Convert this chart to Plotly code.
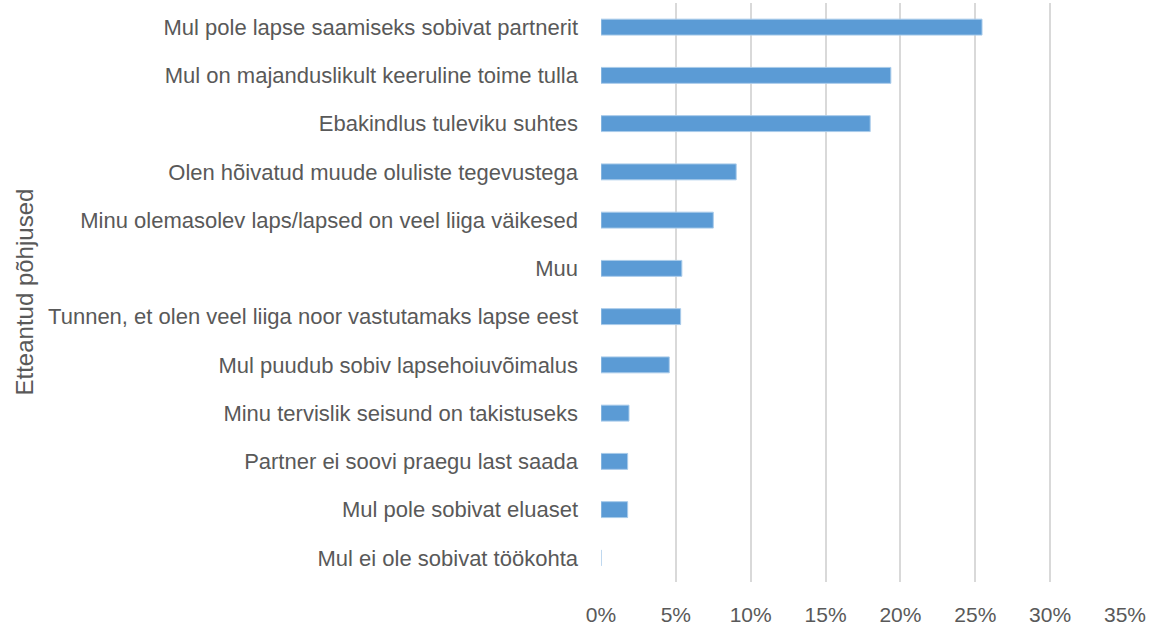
import plotly.graph_objects as go

categories = [
    "Mul pole lapse saamiseks sobivat partnerit",
    "Mul on majanduslikult keeruline toime tulla",
    "Ebakindlus tuleviku suhtes",
    "Olen hõivatud muude oluliste tegevustega",
    "Minu olemasolev laps/lapsed on veel liiga väikesed",
    "Muu",
    "Tunnen, et olen veel liiga noor vastutamaks lapse eest",
    "Mul puudub sobiv lapsehoiuvõimalus",
    "Minu tervislik seisund on takistuseks",
    "Partner ei soovi praegu last saada",
    "Mul pole sobivat eluaset",
    "Mul ei ole sobivat töökohta",
]
values = [0.2545, 0.1936, 0.1798, 0.0903, 0.0750, 0.0540, 0.0532, 0.0456, 0.0187, 0.0178, 0.0178, 0.0]
x_ticks = [0, 0.05, 0.10, 0.15, 0.20, 0.25, 0.30, 0.35]
x_ticklabels = ["0%", "5%", "10%", "15%", "20%", "25%", "30%", "35%"]
axis_title = "Etteantud põhjused"

W, H = 1153, 628
L, R, T, B = 601, 28, 3, 46
plot_w = W - L - R

fig = go.Figure(go.Bar(
    x=values, y=categories, orientation="h",
    marker=dict(color="#5B9BD5", line=dict(color="#A9CBEA", width=1)),
))

fig.update_layout(
    width=W, height=H,
    margin=dict(l=L, r=R, t=T, b=B, autoexpand=False),
    plot_bgcolor="white", paper_bgcolor="white",
    bargap=0.67,
    showlegend=False,
    font=dict(family="Liberation Sans, Arial, sans-serif"),
)
fig.update_xaxes(
    range=[0, 0.35], tickvals=x_ticks, ticktext=x_ticklabels,
    showgrid=True, gridcolor="#D9D9D9", gridwidth=2, zeroline=False,
    showline=False, ticks="", tickfont=dict(size=21, color="#595959"),
    ticklabelstandoff=18, fixedrange=True, automargin=False,
)
fig.update_yaxes(
    categoryorder="array", categoryarray=categories, autorange="reversed",
    showgrid=False, showline=False, zeroline=False, ticks="",
    tickfont=dict(size=22, color="#595959"), ticklabelstandoff=22, automargin=False,
)
fig.add_annotation(
    text=axis_title, xref="paper", yref="paper", x=(24 - L) / plot_w, y=0.5,
    xanchor="center", yanchor="middle", textangle=-90, showarrow=False,
    font=dict(size=24, color="#595959"),
)

fig.write_html(
    "out.html",
    config={"displayModeBar": False},
    post_script="document.body.style.margin='0';document.body.style.overflow='hidden';",
)
